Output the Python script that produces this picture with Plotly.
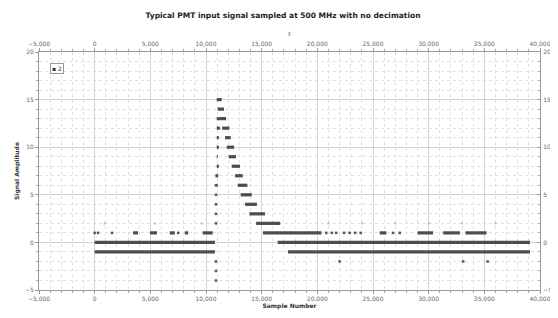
import plotly.graph_objects as go

# Horizontal runs of samples: (level, first sample, last sample)
run_level = [0, -1, 15, 14, 13, 12, 12, 11, 10, 9, 8, 7, 6, 5, 4, 3, 2, 1, 0, -1,
             11, 10, 9, 8, 7, 6,
             1, 1, 1, 1, 1, 1, 1, 1, 1]
run_start = [0, 0, 10960, 11050, 10960, 10960, 11450, 11710, 11860, 12040, 12310, 12610, 12850, 13120, 13510, 13900, 14500, 15120, 16440, 17370,
             10960, 10960, 10960, 10960, 10850, 10960,
             25600, 29000, 31300, 33300, 3450, 4970, 6750, 8100, 9700]
run_end = [10800, 10800, 11410, 11620, 11800, 11250, 12100, 12220, 12520, 12700, 13060, 13300, 13720, 14110, 14570, 15310, 16670, 20370, 39100, 39100,
           11150, 11150, 11050, 11150, 11100, 11050,
           26200, 30400, 32800, 35200, 3900, 5600, 7200, 8400, 10600]

# Isolated samples (dark)
pt_x = [10900, 10900, 10900, 10900, 10900, 10900, 10900, 10900,
        0, 300, 1560, 7500, 20800, 21300, 21700, 22400, 22900, 23400, 23900, 26800, 27400,
        22000, 33100, 35300]
pt_y = [-4, -3, -2, 2, 3, 4, 5, 6,
        1, 1, 1, 1, 1, 1, 1, 1, 1, 1, 1, 1, 1,
        -2, -2, -2]

# Isolated samples (faint)
faint_x = [900, 5400, 9600, 21000, 24000, 27000, 30000, 33000, 36000]
faint_y = [2, 2, 2, 2, 2, 2, 2, 2, 2]

x_range = [-5000, 40000]
y_range = [-5, 20]

seg_x, seg_y = [], []
for lv, a, b in zip(run_level, run_start, run_end):
    seg_x += [a, b, None]
    seg_y += [lv, lv, None]

dark = "#4d4d4d"
fig = go.Figure()
fig.add_trace(go.Scatter(x=seg_x, y=seg_y, mode="lines", line=dict(color=dark, width=3.2),
                         showlegend=False, hoverinfo="skip"))
fig.add_trace(go.Scatter(x=pt_x, y=pt_y, mode="markers", showlegend=False,
                         marker=dict(color="#555555", size=2.5, symbol="square")))
fig.add_trace(go.Scatter(x=faint_x, y=faint_y, mode="markers", showlegend=False,
                         marker=dict(color="#bbbbbb", size=2, symbol="square")))
fig.add_trace(go.Scatter(x=[None], y=[None], xaxis="x2", yaxis="y2", showlegend=False))

tickfont = dict(family="DejaVu Sans", size=6, color="#666666")
common_x = dict(range=x_range, dtick=5000, tick0=0, tickformat=",", showline=True, linecolor="#999999",
                ticks="outside", ticklen=3, tickcolor="#999999", tickfont=tickfont, automargin=False,
                zeroline=False, gridcolor="#d4d4d4", gridwidth=1,
                minor=dict(dtick=1000, ticks="outside", ticklen=2, tickcolor="#aaaaaa",
                           showgrid=True, gridcolor="#e0e0e0", griddash="dot"))
common_y = dict(range=y_range, dtick=5, tick0=0, showline=True, linecolor="#999999",
                ticks="outside", ticklen=3, tickcolor="#999999", tickfont=tickfont, automargin=False,
                zeroline=False, gridcolor="#d4d4d4", gridwidth=1,
                minor=dict(dtick=1, ticks="outside", ticklen=2, tickcolor="#aaaaaa",
                           showgrid=True, gridcolor="#e0e0e0", griddash="dot"))
right_y = dict(common_y)
right_y.update(ticks="inside", minor=dict(dtick=1, ticks="inside", ticklen=2, tickcolor="#aaaaaa", showgrid=False))

# page body has an 8px default margin, so the figure is sized to fill the rest of the 558x318 window
fig.update_layout(
    width=550, height=310,
    margin=dict(l=31, r=18, t=44, b=28, autoexpand=False),
    paper_bgcolor="white", plot_bgcolor="white",
    font=dict(family="DejaVu Sans", size=7, color="#333333"),
    title=dict(text="<b>Typical PMT input signal sampled at 500 MHz with no decimation</b>",
               x=0.5, xanchor="center", y=0.977, yanchor="middle",
               font=dict(size=7.5, color="#222222")),
    xaxis=dict(**common_x, title=dict(text="<b>Sample Number</b>", font=dict(size=6, color="#333333"), standoff=2)),
    yaxis=dict(**common_y, title=dict(text="<b>Signal Amplitude</b>", font=dict(size=6, color="#333333"), standoff=4)),
    xaxis2=dict(**common_x, overlaying="x", side="top", showgrid=False,
                title=dict(text="t", font=dict(size=6, color="#555555"), standoff=2)),
    yaxis2=dict(**right_y, overlaying="y", side="right", showgrid=False, ticklabelstandoff=1),
    showlegend=False,
    annotations=[dict(text="▪ 2", xref="paper", yref="paper", x=0.022, y=0.955, xanchor="left", yanchor="top",
                      showarrow=False, font=dict(size=6, color="#333333"), bordercolor="#999999",
                      borderwidth=1, borderpad=1, bgcolor="white")],
)
fig.write_html("out.html")
